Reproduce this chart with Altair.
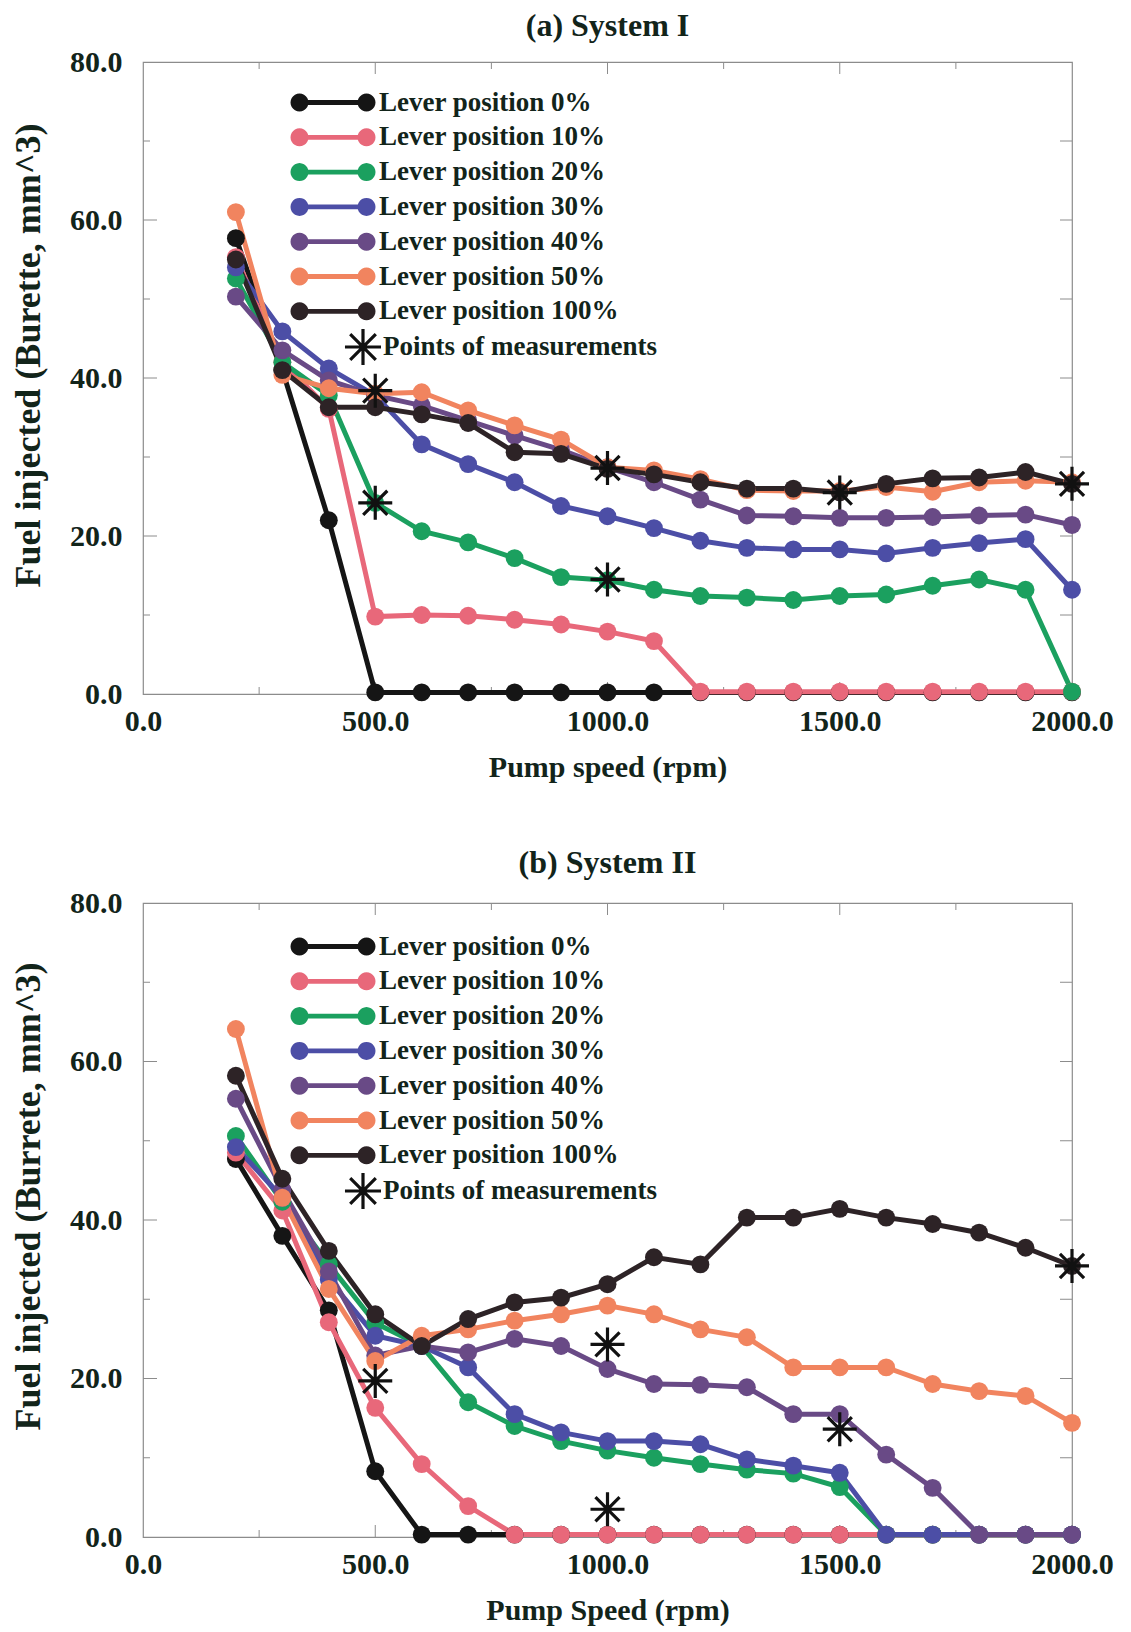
import math
import altair as alt
import pandas as pd

# ---------------- data ----------------
rpm = [200, 300, 400, 500, 600, 700, 800, 900, 1000, 1100,
       1200, 1300, 1400, 1500, 1600, 1700, 1800, 1900, 2000]

series_names = ["Lever position 0%", "Lever position 10%", "Lever position 20%",
                "Lever position 30%", "Lever position 40%", "Lever position 50%",
                "Lever position 100%"]
series_colors = ["#151515", "#e8687a", "#1ba05f", "#4c4ea6", "#694a86", "#f1845f", "#2d2326"]

# (a) System I
a_lever0 = [57.7, 41.0, 22.0, 0.2, 0.2, 0.2, 0.2, 0.2, 0.2, 0.2, 0.2, 0.2, 0.2, 0.2, 0.2, 0.2, 0.2, 0.2, 0.2]
a_lever10 = [55.3, 42.0, 36.1, 9.8, 10.0, 9.9, 9.4, 8.8, 7.9, 6.7, 0.3, 0.3, 0.3, 0.3, 0.3, 0.3, 0.3, 0.3, 0.3]
a_lever20 = [52.6, 42.0, 37.8, 24.2, 20.6, 19.2, 17.2, 14.8, 14.4, 13.2, 12.4, 12.2, 11.9, 12.4, 12.6, 13.7, 14.5, 13.2, 0.3]
a_lever30 = [54.0, 45.9, 41.2, 37.8, 31.6, 29.1, 26.8, 23.8, 22.5, 21.0, 19.4, 18.5, 18.3, 18.3, 17.8, 18.5, 19.1, 19.6, 13.2]
a_lever40 = [50.3, 43.5, 39.7, 37.8, 36.5, 34.6, 32.7, 30.9, 28.7, 26.8, 24.6, 22.6, 22.5, 22.3, 22.3, 22.4, 22.6, 22.7, 21.4]
a_lever50 = [61.0, 40.4, 38.7, 38.0, 38.2, 35.9, 34.0, 32.2, 28.7, 28.3, 27.2, 25.8, 25.7, 25.7, 26.2, 25.6, 26.8, 27.0, 26.8]
a_lever100 = [55.0, 41.0, 36.3, 36.3, 35.4, 34.3, 30.6, 30.4, 28.5, 27.8, 26.8, 26.0, 26.0, 25.5, 26.6, 27.3, 27.4, 28.1, 26.6]
a_star_rpm = [500, 500, 1000, 1000, 1500, 2000]
a_star_val = [38.4, 24.2, 28.6, 14.5, 25.5, 26.6]

# (b) System II
b_lever0 = [47.7, 38.0, 28.6, 8.3, 0.3, 0.3, 0.3, 0.3, 0.3, 0.3, 0.3, 0.3, 0.3, 0.3, 0.3, 0.3, 0.3, 0.3, 0.3]
b_lever10 = [48.5, 41.2, 27.1, 16.3, 9.2, 3.9, 0.3, 0.3, 0.3, 0.3, 0.3, 0.3, 0.3, 0.3, 0.3, 0.3, 0.3, 0.3, 0.3]
b_lever20 = [50.6, 42.3, 34.4, 27.0, 24.1, 17.0, 14.0, 12.1, 10.9, 10.0, 9.2, 8.5, 8.0, 6.3, 0.3, 0.3, 0.3, 0.3, 0.3]
b_lever30 = [49.2, 42.8, 32.5, 25.4, 24.1, 21.4, 15.5, 13.2, 12.1, 12.1, 11.7, 9.8, 9.0, 8.1, 0.3, 0.3, 0.3, 0.3, 0.3]
b_lever40 = [55.3, 43.8, 33.5, 22.9, 24.1, 23.3, 25.0, 24.1, 21.2, 19.3, 19.2, 18.9, 15.5, 15.5, 10.4, 6.2, 0.3, 0.3, 0.3]
b_lever50 = [64.1, 42.8, 31.3, 22.2, 25.4, 26.2, 27.3, 28.1, 29.2, 28.1, 26.2, 25.2, 21.4, 21.4, 21.4, 19.3, 18.4, 17.8, 14.4]
b_lever100 = [58.2, 45.2, 36.1, 28.1, 24.1, 27.5, 29.6, 30.2, 31.9, 35.3, 34.4, 40.3, 40.3, 41.4, 40.3, 39.5, 38.4, 36.5, 34.2]
b_star_rpm = [500, 1000, 1000, 1500, 2000]
b_star_val = [19.7, 24.3, 3.5, 13.6, 34.2]

x_tick_labels = [0, 500, 1000, 1500, 2000]
y_tick_labels = [0, 20, 40, 60, 80]
y_minor = [10, 20, 30, 40, 50, 60, 70]
x_minor = [250, 500, 750, 1000, 1250, 1500, 1750]
star_label = "Points of measurements"

# ---------------- style ----------------
FONT = "Liberation Serif"
TXT = "#12241a"
AXC = "#8c8c8c"
W = 929
ROW = 34.8


def _circle_path(cx, r, n=24):
    pts = []
    for i in range(n):
        t = 2 * math.pi * i / n
        pts.append("%.3f,%.3f" % (cx + r * math.cos(t), r * math.sin(t)))
    return "M" + "L".join(pts) + "Z"


DUMBBELL = (_circle_path(-6.6, 0.9) + _circle_path(0.1, 0.9)
            + "M-6.6,-0.24L0.1,-0.24L0.1,0.24L-6.6,0.24Z")
STAR = "M-1,0L1,0M0,-1L0,1M-0.71,-0.71L0.71,0.71M-0.71,0.71L0.71,-0.71"


def panel(title, xtitle, ytitle, values, srpm, sval, H, leg_y, toff):
    rows = []
    for name, vals in zip(series_names, values):
        for r, v in zip(rpm, vals):
            rows.append({"series": name, "rpm": r, "val": v})
    df = pd.DataFrame(rows)
    stars = pd.DataFrame({"rpm": srpm, "val": sval, "mk": [star_label] * len(srpm)})

    X = alt.X("rpm:Q", scale=alt.Scale(domain=[0, 2000], nice=False, zero=False),
              axis=alt.Axis(values=x_tick_labels, format=".1f", title=xtitle, grid=False,
                            ticks=False, domain=False, labelFlush=False, labelOverlap=False,
                            labelFont=FONT, labelFontSize=30, labelFontWeight="bold",
                            labelColor=TXT, labelPadding=12.5,
                            titleFont=FONT, titleFontSize=30, titleFontWeight="bold",
                            titleColor=TXT, titlePadding=15.5))
    Y = alt.Y("val:Q", scale=alt.Scale(domain=[0, 80], nice=False),
              axis=alt.Axis(values=y_tick_labels, format=".1f", title=ytitle, grid=False,
                            ticks=False, domain=False, labelFlush=False, labelOverlap=False,
                            labelFont=FONT, labelFontSize=30, labelFontWeight="bold",
                            labelColor=TXT, labelPadding=21,
                            titleFont=FONT, titleFontSize=36, titleFontWeight="bold",
                            titleColor=TXT, titlePadding=22, titleY=293))
    cscale = alt.Scale(domain=series_names, range=series_colors)

    lines = alt.Chart(df).mark_line(strokeWidth=5).encode(
        x=X, y=Y, stroke=alt.Stroke("series:N", scale=cscale, legend=None))
    pts = alt.Chart(df).mark_point(filled=True, size=320, opacity=1).encode(
        x=X, y=Y, fill=alt.Fill("series:N", scale=cscale, legend=None))

    # one single-entry legend per lever series (dumbbell symbol in the series colour)
    legend_layers = []
    for i, (name, col) in enumerate(zip(series_names, series_colors)):
        sub = df[df["series"] == name].head(1)
        legend_layers.append(
            alt.Chart(sub).mark_point(filled=True, size=400, opacity=0, color=col).encode(
                x=X, y=Y,
                shape=alt.Shape("series:N",
                                scale=alt.Scale(domain=[name], range=[DUMBBELL]),
                                legend=alt.Legend(orient="none", legendX=209,
                                                  legendY=leg_y + i * ROW, title=None,
                                                  symbolSize=400, symbolOpacity=1,
                                                  symbolFillColor=col, symbolStrokeWidth=0,
                                                  labelFont=FONT, labelFontSize=27,
                                                  labelFontWeight="bold", labelColor=TXT,
                                                  labelOffset=0, labelLimit=0, padding=0))))

    st = alt.Chart(stars).mark_point(filled=False, size=1156, strokeWidth=3.2, color="#111111",
                                     opacity=1).encode(
        x=X, y=Y,
        shape=alt.Shape("mk:N", scale=alt.Scale(domain=[star_label], range=[STAR]),
                        legend=alt.Legend(orient="none", legendX=200, legendY=leg_y + 238,
                                          title=None, symbolSize=1300, symbolStrokeWidth=3.2,
                                          symbolStrokeColor="#111111",
                                          labelFont=FONT, labelFontSize=27, labelFontWeight="bold",
                                          labelColor=TXT, labelOffset=0, labelLimit=0,
                                          padding=0)))

    ymaj = pd.DataFrame({"val": y_minor, "len": [7 if v % 20 else 14 for v in y_minor]})
    xmaj = pd.DataFrame({"rpm": x_minor, "len": [7 if v % 500 else 12 for v in x_minor]})
    rules = []
    for lenv in (7, 14):
        sub = ymaj[ymaj["len"] == lenv]
        rules.append(alt.Chart(sub).mark_rule(color=AXC, strokeWidth=1).encode(
            y=Y, x=alt.value(0), x2=alt.value(lenv)))
    rules.append(alt.Chart(ymaj).mark_rule(color=AXC, strokeWidth=1).encode(
        y=Y, x=alt.value(W), x2=alt.value(W - 12)))
    for lenv in (7, 12):
        sub = xmaj[xmaj["len"] == lenv]
        rules.append(alt.Chart(sub).mark_rule(color=AXC, strokeWidth=1).encode(
            x=X, y=alt.value(0), y2=alt.value(lenv)))
        rules.append(alt.Chart(sub).mark_rule(color=AXC, strokeWidth=1).encode(
            x=X, y=alt.value(H), y2=alt.value(H - lenv)))

    return alt.layer(*rules, lines, pts, *legend_layers, st).resolve_scale(
        shape="independent").resolve_legend(shape="independent").properties(
        width=W, height=H,
        title=alt.TitleParams(title, font=FONT, fontSize=32, fontWeight="bold", color=TXT,
                              anchor="middle", offset=toff))


pa = panel("(a) System I", "Pump speed (rpm)", "Fuel injected (Burette, mm^3)",
           [a_lever0, a_lever10, a_lever20, a_lever30, a_lever40, a_lever50, a_lever100],
           a_star_rpm, a_star_val, 632, 27, 4)
pb = panel("(b) System II", "Pump Speed (rpm)", "Fuel injected (Burrete, mm^3)",
           [b_lever0, b_lever10, b_lever20, b_lever30, b_lever40, b_lever50, b_lever100],
           b_star_rpm, b_star_val, 634, 30, 8)

chart = alt.vconcat(pa, pb, spacing=63).resolve_scale(
    shape="independent", stroke="independent", fill="independent").resolve_legend(
    shape="independent", stroke="independent", fill="independent").properties(
    padding={"left": 1, "top": 1, "right": 5, "bottom": 0},
    background="white").configure_view(stroke=AXC, strokeWidth=1.2)

chart.save("out.html", embed_options={"renderer": "svg", "actions": False})
